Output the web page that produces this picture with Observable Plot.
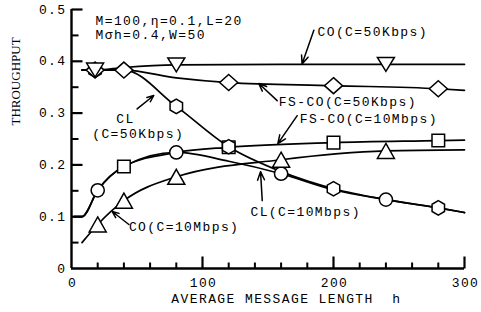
<!DOCTYPE html>
<html><head><meta charset="utf-8">
<script src="https://cdn.jsdelivr.net/npm/d3@7"></script>
<script src="https://cdn.jsdelivr.net/npm/@observablehq/plot@0.6"></script>
<style>html,body{margin:0;padding:0;background:#fff}svg{display:block}</style>
</head><body><div id="chart"></div>
<script>
// ---- axes values ----
const xDomain = [0, 300];
const yDomain = [0, 0.5];
const xMajor = [0, 100, 200, 300];
const xMinor = [20, 40, 60, 80, 120, 140, 160, 180, 220, 240, 260, 280];
const yMajor = [0.1, 0.2, 0.3, 0.4, 0.5];
const yLabels = [0, 0.1, 0.2, 0.3, 0.4, 0.5];
const yMinor = [0.05, 0.15, 0.25, 0.35, 0.45];
const xTitle = "AVERAGE MESSAGE LENGTH\u00a0\u00a0h";
const yTitle = "THROUGHPUT";

// ---- series (h = average message length, v = throughput) ----
const hCO50 = [8, 18, 40, 80, 160, 240, 300];
const vCO50 = [0.383, 0.383, 0.388, 0.393, 0.394, 0.394, 0.394];
const mCO50 = [18, 80, 240];

const hFS50 = [8, 18, 40, 80, 120, 200, 280, 300];
const vFS50 = [0.383, 0.383, 0.383, 0.368, 0.359, 0.353, 0.347, 0.344];
const mFS50 = [18, 40, 120, 200, 280];

const hCL50 = [8, 18, 40, 80, 120, 160, 200, 240, 280, 300];
const vCL50 = [0.383, 0.383, 0.383, 0.313, 0.235, 0.187, 0.154, 0.133, 0.117, 0.108];
const mCL50 = [18, 80, 120, 200, 280];

const hCL10 = [2, 8, 20, 40, 80, 120, 160, 200, 240, 280, 300];
const vCL10 = [0.1, 0.1, 0.151, 0.197, 0.224, 0.207, 0.183, 0.152, 0.133, 0.117, 0.108];
const mCL10 = [20, 80, 160, 240];

const hFS10 = [2, 8, 20, 40, 80, 120, 200, 280, 300];
const vFS10 = [0.1, 0.1, 0.151, 0.197, 0.224, 0.234, 0.243, 0.247, 0.248];
const mFS10 = [40, 120, 200, 280];

const hCO10 = [8, 20, 40, 80, 160, 240, 300];
const vCO10 = [0.05, 0.085, 0.131, 0.177, 0.21, 0.227, 0.229];
const mCO10 = [20, 40, 80, 160, 240];

// ---- annotations ----
const noteText = ["M=100,η=0.1,L=20", "Mσh=0.4,W=50", "CO(C=50Kbps)", "FS-CO(C=50Kbps)", "FS-CO(C=10Mbps)", "CL", "(C=50Kbps)", "CO(C=10Mbps)", "CL(C=10Mbps)"];
const noteH = [18.3, 18.3, 187.8, 158.3, 174.3, 41.2, 50.9, 43.8, 136.6];
const noteV = [0.479, 0.452, 0.456, 0.322, 0.289, 0.289, 0.260, 0.080, 0.110];
const noteAnchor = ["start", "start", "start", "start", "start", "middle", "middle", "start", "start"];

const arrowH1 = [185, 157, 172.3, 50.1, 43.8, 145.6];
const arrowV1 = [0.460, 0.324, 0.295, 0.308, 0.085, 0.131];
const arrowH2 = [176, 143, 157.5, 62.8, 31.1, 144.3];
const arrowV2 = [0.395, 0.357, 0.241, 0.334, 0.110, 0.187];

// ---- symbols ----
const poly = (pts) => ({draw(ctx, size) {
  const k = Math.sqrt(size / Math.PI);
  ctx.moveTo(pts[0][0] * k, pts[0][1] * k);
  for (let i = 1; i < pts.length; i++) ctx.lineTo(pts[i][0] * k, pts[i][1] * k);
  ctx.closePath();
}});
const seg = (x2, y2) => ({draw(ctx, size) {
  const k = Math.sqrt(size / Math.PI);
  ctx.moveTo(0, 0); ctx.lineTo(x2 * k, y2 * k);
}});
const hexPts = d3.range(6).map(i => { const a = -Math.PI / 2 + i * Math.PI / 3; return [7.2 * Math.cos(a), 7.2 * Math.sin(a)]; });
const symTriDown = poly([[-8.5, -7], [8.5, -7], [0, 7]]);
const symTriUp = poly([[0, -7.5], [8.5, 7.5], [-8.5, 7.5]]);
const symDiamond = poly([[0, -8], [9, 0], [0, 8], [-9, 0]]);
const symSquare = poly([[-6.3, -6.3], [6.3, -6.3], [6.3, 6.3], [-6.3, 6.3]]);
const symHex = poly(hexPts);
const symCircle = {draw(ctx, size) { const k = Math.sqrt(size / Math.PI); ctx.moveTo(6.6 * k, 0); ctx.arc(0, 0, 6.6 * k, 0, 2 * Math.PI); ctx.closePath(); }};

const series = [
  {name: "CO50", h: hCO50, v: vCO50, m: mCO50, sym: symTriDown},
  {name: "FS50", h: hFS50, v: vFS50, m: mFS50, sym: symDiamond},
  {name: "CL50", h: hCL50, v: vCL50, m: mCL50, sym: symHex},
  {name: "CL10", h: hCL10, v: vCL10, m: mCL10, sym: symCircle},
  {name: "FS10", h: hFS10, v: vFS10, m: mFS10, sym: symSquare},
  {name: "CO10", h: hCO10, v: vCO10, m: mCO10, sym: symTriUp}
];
const lineRows = series.flatMap(s => s.h.map((h, i) => ({name: s.name, h, v: s.v[i]})));
const markerRows = (s) => s.m.map(h => ({h, v: s.v[s.h.indexOf(h)]}));
const byName = Object.fromEntries(series.map(s => [s.name, s]));
// squares drawn before hexagons at overlapping points
const markerMarks = ["FS10", "CL50", "FS50", "CO50", "CL10", "CO10"].map(n => {
  const s = byName[n];
  return Plot.dot(markerRows(s), {x: "h", y: "v", symbol: s.sym, r: 1, fill: "white", stroke: "black", strokeWidth: 1.5});
});

const notes = noteText.map((t, i) => ({t, h: noteH[i], v: noteV[i], a: noteAnchor[i]}));
const arrows = arrowH1.map((h, i) => ({h1: h, v1: arrowV1[i], h2: arrowH2[i], v2: arrowV2[i]}));
const mono = "'Liberation Mono', 'DejaVu Sans Mono', monospace";
const fs = 13;

const chart = Plot.plot({
  width: 481, height: 312,
  marginLeft: 71, marginRight: 17, marginTop: 9, marginBottom: 44,
  style: {fontFamily: mono, fontSize: fs + "px", color: "black", background: "white"},
  x: {domain: xDomain, label: null},
  y: {domain: yDomain, label: null},
  marks: [
    Plot.axisX(xMajor, {tickSize: 0, tickPadding: 9, fontSize: fs, fontFamily: mono, fill: "black", dx: 1}),
    Plot.axisY(yLabels, {tickSize: 0, tickPadding: 5, fontSize: fs, fontFamily: mono, fill: "black", tickFormat: d => d === 0 ? "0" : d.toFixed(1)}),
    Plot.ruleX([xDomain[0]], {y1: yDomain[0], y2: yDomain[1], stroke: "black", strokeWidth: 2.4}),
    Plot.ruleY([yDomain[0]], {x1: xDomain[0], x2: xDomain[1], stroke: "black", strokeWidth: 2.4}),
    Plot.dot(yMajor, {x: xDomain[0], y: d => d, symbol: seg(11, 0), r: 1, stroke: "black", strokeWidth: 2.2, fill: "none"}),
    Plot.dot(yMinor, {x: xDomain[0], y: d => d, symbol: seg(7, 0), r: 1, stroke: "black", strokeWidth: 2, fill: "none"}),
    Plot.dot(xMajor.slice(1), {x: d => d, y: yDomain[0], symbol: seg(0, -12), r: 1, stroke: "black", strokeWidth: 2.2, fill: "none"}),
    Plot.dot(xMinor, {x: d => d, y: yDomain[0], symbol: seg(0, -6), r: 1, stroke: "black", strokeWidth: 2, fill: "none"}),
    Plot.line(lineRows, {x: "h", y: "v", z: "name", curve: "monotone-x", stroke: "black", strokeWidth: 1.7}),
    ...markerMarks,
    Plot.arrow(arrows, {x1: "h1", y1: "v1", x2: "h2", y2: "v2", stroke: "black", strokeWidth: 1.5, headLength: 9, headAngle: 45}),
    Plot.text(notes, {x: "h", y: "v", text: "t", textAnchor: "start", fontSize: fs, fontFamily: mono, fill: "black", filter: d => d.a === "start"}),
    Plot.text(notes, {x: "h", y: "v", text: "t", textAnchor: "middle", fontSize: fs, fontFamily: mono, fill: "black", filter: d => d.a === "middle"}),
    Plot.text([xTitle], {x: 164, frameAnchor: "bottom", dy: 34, fontSize: fs, fontFamily: mono, fill: "black"}),
    Plot.text([yTitle], {y: 0.276, frameAnchor: "left", dx: -56, rotate: -90, fontSize: 13, fontFamily: "'Liberation Serif', serif", fill: "black"})
  ]
});
// typewriter-like letter spacing for the monospaced texts
d3.select(chart).selectAll("text").filter(function() { return this.textContent !== yTitle; }).style("letter-spacing", "1.4px");
document.getElementById("chart").appendChild(chart);
</script>
</body></html>
